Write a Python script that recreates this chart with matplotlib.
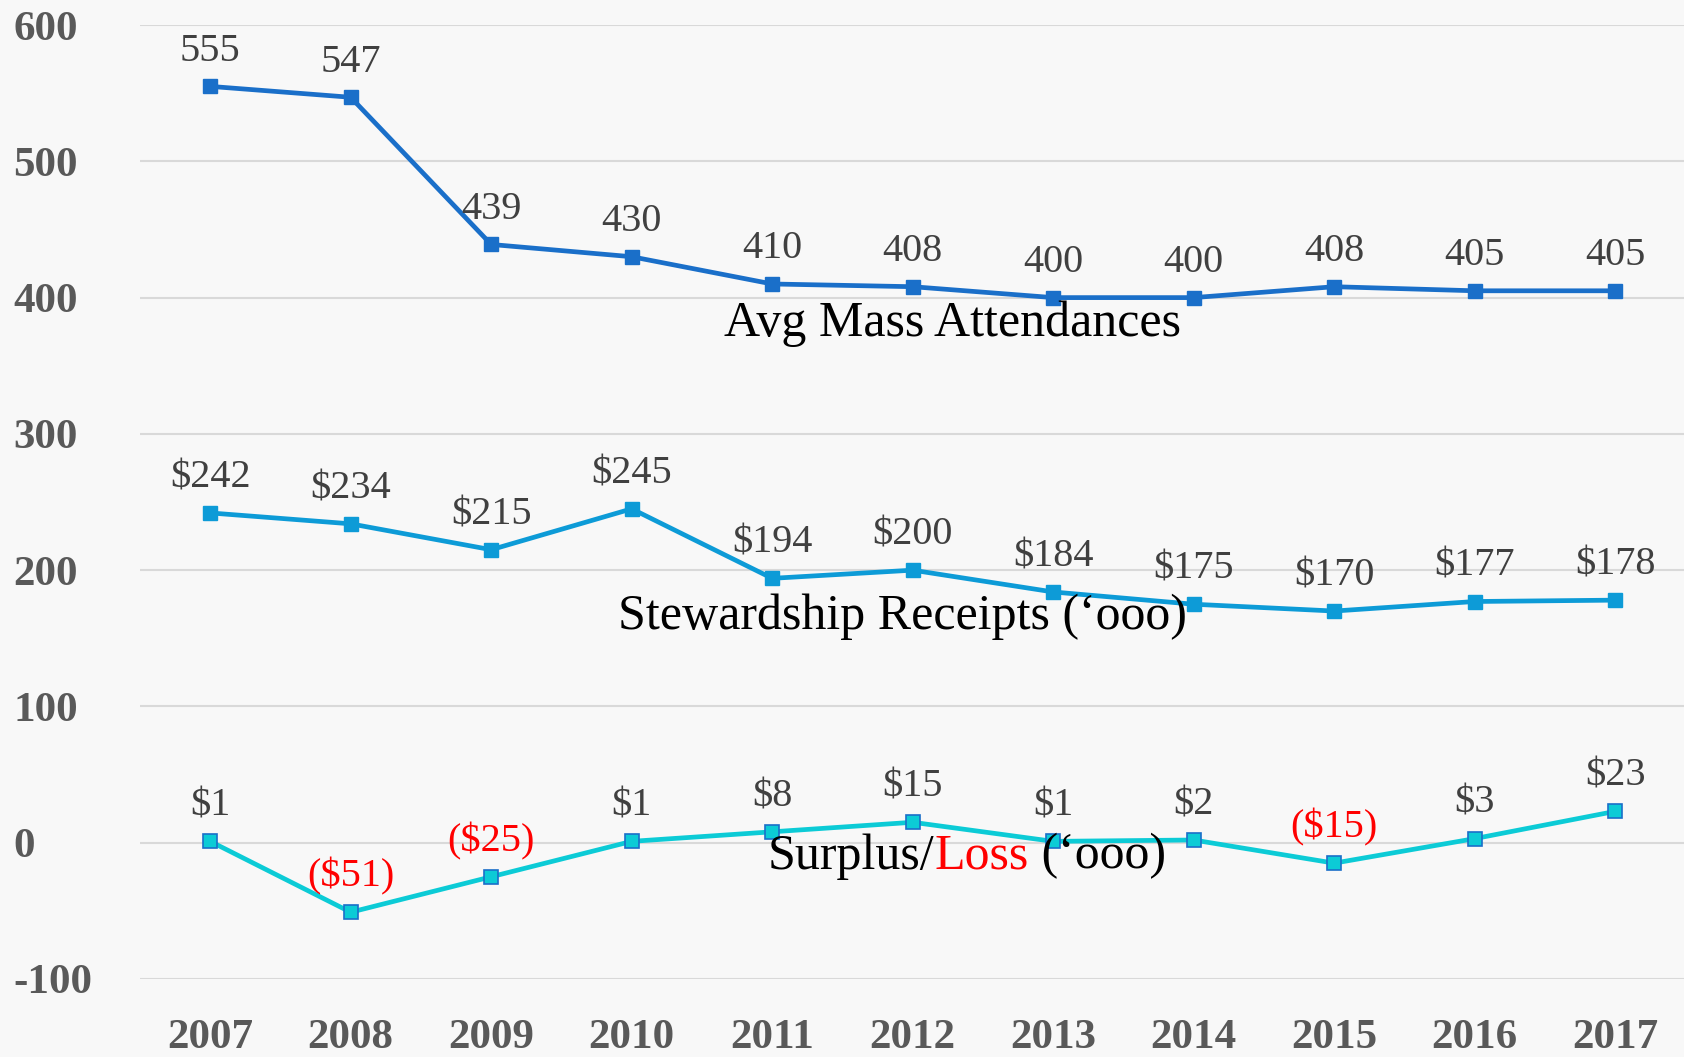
import matplotlib
matplotlib.use("Agg")
import matplotlib.pyplot as plt
import numpy as np

years = ["2007", "2008", "2009", "2010", "2011", "2012", "2013", "2014", "2015", "2016", "2017"]
mass = [555, 547, 439, 430, 410, 408, 400, 400, 408, 405, 405]
stewardship = [242, 234, 215, 245, 194, 200, 184, 175, 170, 177, 178]
surplus = [1, -51, -25, 1, 8, 15, 1, 2, -15, 3, 23]
yticks = [-100, 0, 100, 200, 300, 400, 500, 600]

FONT = "Liberation Serif"
LABEL_COLOR = "#404040"
plt.rcParams["axes.unicode_minus"] = False

fig = plt.figure(figsize=(16.84, 10.57), dpi=100)
fig.patch.set_facecolor("#f8f8f8")
ax = fig.add_axes([0.0831, 0.0738, 0.9169, 0.9025])
ax.set_facecolor("#f8f8f8")

x = np.arange(len(years))

ax.plot(x, mass, color="#1a6fc9", lw=3.4, marker="s", ms=10, zorder=3)
ax.plot(x, stewardship, color="#0d9bd7", lw=3.4, marker="s", ms=10, zorder=3)
ax.plot(x, surplus, color="#0ccbd6", lw=3.4, marker="s", ms=10,
        mec="#1a6fc9", mew=1.2, zorder=3)

def money(v):
    return "(${})".format(-v) if v < 0 else "${}".format(v)

for i in x:
    ax.annotate(str(mass[i]), (i, mass[i]), xytext=(0, 12), textcoords="offset points",
                ha="center", va="bottom", fontsize=29, family=FONT, color=LABEL_COLOR)
    ax.annotate(money(stewardship[i]), (i, stewardship[i]), xytext=(0, 12), textcoords="offset points",
                ha="center", va="bottom", fontsize=29, family=FONT, color=LABEL_COLOR)
    c = "#ff0000" if surplus[i] < 0 else LABEL_COLOR
    ax.annotate(money(surplus[i]), (i, surplus[i]), xytext=(0, 12), textcoords="offset points",
                ha="center", va="bottom", fontsize=29, family=FONT, color=c)

# series names written inside the plot
ax.text(5.28, 381, "Avg Mass Attendances", ha="center", va="center",
        fontsize=36, family=FONT, color="black", zorder=4)
ax.text(4.93, 166, "Stewardship Receipts (\u2018ooo)", ha="center", va="center",
        fontsize=36, family=FONT, color="black", zorder=4)
t1 = ax.text(3.97, -10, "Surplus/", ha="left", va="center",
             fontsize=36, family=FONT, color="black", zorder=4)
fig.canvas.draw()
t2 = ax.annotate("Loss", xycoords=t1, xy=(1, 0), va="bottom",
                 fontsize=36, family=FONT, color="#ff0000", zorder=4)
fig.canvas.draw()
ax.annotate(" (\u2018ooo)", xycoords=t2, xy=(1, 0), va="bottom",
            fontsize=36, family=FONT, color="black", zorder=4)

ax.set_xlim(-0.5, 10.49)
ax.set_ylim(-100, 600)
ax.set_xticks(x)
ax.set_xticklabels(years)
ax.set_yticks(yticks)
ax.grid(axis="y", color="#d9d9d9", lw=1.5)
ax.set_axisbelow(True)
for s in ax.spines.values():
    s.set_visible(False)
ax.tick_params(length=0, pad=29, labelsize=31, labelcolor="#595959")
ax.tick_params(axis="y", pad=91)
for lab in ax.get_xticklabels() + ax.get_yticklabels():
    lab.set_family(FONT)
    lab.set_fontweight("bold")
for lab in ax.get_yticklabels():
    lab.set_horizontalalignment("left")

fig.savefig("out.png", dpi=100, facecolor=fig.get_facecolor())
